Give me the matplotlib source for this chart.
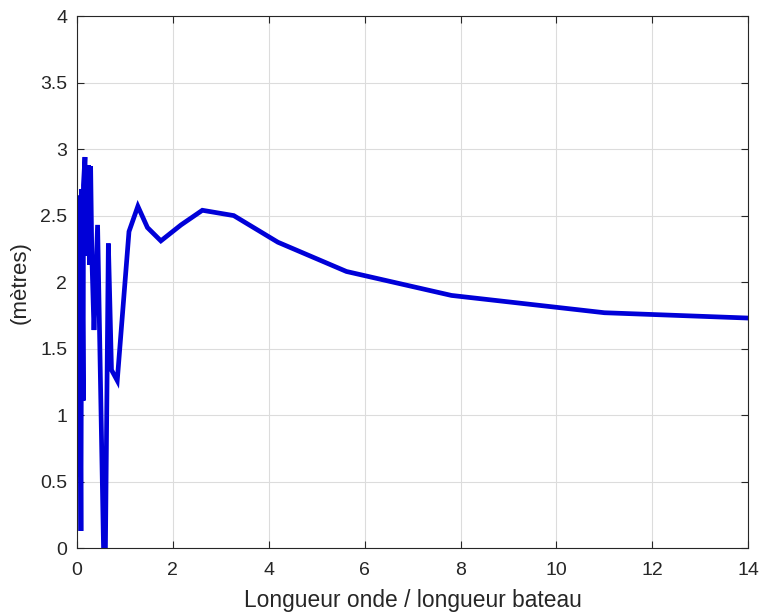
import matplotlib
matplotlib.use("Agg")
import matplotlib.pyplot as plt

# rapport longueur d'onde / longueur du bateau
ratio = [0.02, 0.035, 0.05, 0.083, 0.10, 0.13, 0.135, 0.167, 0.20, 0.235,
         0.26, 0.285, 0.31, 0.355, 0.43, 0.58, 0.655, 0.72, 0.84, 1.085,
         1.27, 1.47, 1.75, 2.17, 2.615, 3.27, 4.19, 5.62, 7.81, 11.0, 14.0]
# amplitude (metres)
hauteur = [2.63, 0.54, 2.65, 0.13, 2.70, 1.11, 2.73, 2.94, 2.20, 2.88,
           2.13, 2.87, 2.20, 1.64, 2.43, -0.5, 2.29, 1.34, 1.26, 2.38,
           2.57, 2.41, 2.31, 2.43, 2.54, 2.50, 2.30, 2.08, 1.90, 1.77, 1.73]

xticks = [0, 2, 4, 6, 8, 10, 12, 14]
yticks = [0, 0.5, 1, 1.5, 2, 2.5, 3, 3.5, 4]

plt.rcParams['font.family'] = ['Liberation Sans', 'DejaVu Sans']
txt = '#262626'

fig = plt.figure(figsize=(7.62, 6.16), dpi=100)
ax = fig.add_axes([0.101, 0.110, 0.881, 0.864])

ax.plot(ratio, hauteur, color='#0000d8', lw=3.4, solid_joinstyle='miter')

ax.set_xlim(0, 14)
ax.set_ylim(0, 4)
ax.set_xticks(xticks)
ax.set_yticks(yticks)
ax.set_yticklabels(['0', '0.5', '1', '1.5', '2', '2.5', '3', '3.5', '4'])
ax.grid(True, color='#dcdcdc', lw=0.8)
ax.set_axisbelow(True)

ax.tick_params(direction='in', length=5, width=0.8, colors=txt, labelsize=14,
               top=True, right=True)
ax.tick_params(axis='x', pad=10)
ax.tick_params(axis='y', pad=7)
for s in ax.spines.values():
    s.set_color(txt)
    s.set_linewidth(0.8)

ax.set_xlabel('Longueur onde / longueur bateau', fontsize=16.4, color=txt, labelpad=7)
ax.set_ylabel('(mètres)', fontsize=16, color=txt, labelpad=7)

fig.savefig('out.png', dpi=100)
